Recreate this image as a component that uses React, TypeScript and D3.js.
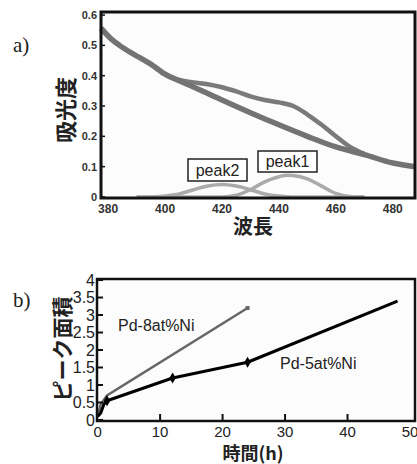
import React from 'react';
import * as d3 from 'd3';

// (a) absorption spectrum
const baseWl = [377.5, 381, 384, 388, 391, 395, 400, 405, 410, 420, 430, 440, 450, 460, 470, 480, 488];
const baseAbs = [0.557, 0.522, 0.5, 0.476, 0.46, 0.438, 0.405, 0.383, 0.363, 0.32, 0.278, 0.238, 0.2, 0.165, 0.14, 0.112, 0.1];
const totalWl = [402, 405, 410, 415, 420, 425, 430, 435, 440, 445, 450, 455, 460, 465, 470];
const totalAbs = [0.395, 0.386, 0.378, 0.372, 0.362, 0.348, 0.332, 0.32, 0.312, 0.3, 0.272, 0.238, 0.2, 0.165, 0.142];
const peakWl = [390, 395, 400, 405, 410, 415, 420, 425, 430, 435, 440, 443, 445, 450, 455, 460, 465, 470];
const peak2Abs = [0, 0, 0.003, 0.01, 0.024, 0.036, 0.041, 0.036, 0.024, 0.01, 0.003, 0.001, 0, 0, 0, 0, 0, 0];
const peak1Abs = [0, 0, 0, 0, 0, 0, 0, 0.006, 0.024, 0.05, 0.067, 0.072, 0.071, 0.06, 0.036, 0.012, 0.002, 0];
const wlTicks = [380, 400, 420, 440, 460, 480];
const absTicks = [0, 0.1, 0.2, 0.3, 0.4, 0.5, 0.6];

// (b) peak area vs time
const t8 = [0, 0.5, 1.5, 24];
const area8 = [0.1, 0.45, 0.7, 3.2];
const t5 = [0, 0.5, 1, 1.5, 12, 24, 48];
const area5 = [0.1, 0.2, 0.45, 0.55, 1.2, 1.65, 3.4];
const markT5 = [1.5, 12, 24];
const timeTicks = [0, 10, 20, 30, 40, 50];
const areaTicks = [0, 0.5, 1, 1.5, 2, 2.5, 3, 3.5, 4];

const JP = '"Noto Sans CJK JP", sans-serif';
const NUM = '"Liberation Sans", Arial, sans-serif';

const App = () => {
  const zip = (xs: number[], ys: number[]) => xs.map((x, i) => [x, ys[i]] as [number, number]);

  // top chart
  const ax = d3.scaleLinear().domain([377.5, 487.8]).range([101, 415]);
  const ay = d3.scaleLinear().domain([-0.0033, 0.61]).range([198, 12]);
  const aLine = d3.line<[number, number]>()
    .x(d => ax(d[0]))
    .y(d => ay(d[1]))
    .curve(d3.curveMonotoneX);

  // bottom chart
  const bx = d3.scaleLinear().domain([-0.1, 50.8]).range([97, 415]);
  const by = d3.scaleLinear().domain([-0.03, 4.03]).range([421, 279]);
  const bLine = d3.line<[number, number]>()
    .x(d => bx(d[0]))
    .y(d => by(d[1]));

  const diamond = d3.symbol().type(d3.symbolDiamond).size(36)();
  const pts5 = zip(t5, area5);

  return (
    <svg width={417} height={464} style={{position: 'absolute', left: 0, top: 0, background: '#fff'}}>
      {/* ---------- a) ---------- */}
      <text x={13} y={52} fontFamily='"Liberation Serif", serif' fontSize={21} fill='#222'>a)</text>
      <rect x={101} y={12} width={314} height={186} fill='#fcfcfc' stroke='none' />
      <path d={aLine(zip(peakWl, peak2Abs)) || ''} fill='none' stroke='#aaa' strokeWidth={3.5} />
      <path d={aLine(zip(peakWl, peak1Abs)) || ''} fill='none' stroke='#aaa' strokeWidth={3.5} />
      <path d={aLine(zip(totalWl, totalAbs)) || ''} fill='none' stroke='#7a7a7a' strokeWidth={4.5} />
      <path d={aLine(zip(baseWl, baseAbs)) || ''} fill='none' stroke='#737373' strokeWidth={5.5} />
      <rect x={101} y={12} width={314} height={186} fill='none' stroke='#111' strokeWidth={3} />
      {absTicks.map(v => (
        <g key={v}>
          <line x1={101} x2={105} y1={ay(v)} y2={ay(v)} stroke='#111' strokeWidth={1.5} />
          <text x={97} y={ay(v)} dy='0.35em' textAnchor='end' fontFamily={NUM} fontWeight='bold' fontSize={11} fill='#333'>{v}</text>
        </g>
      ))}
      {wlTicks.map(v => (
        <text key={v} x={ax(v)} y={213} textAnchor='middle' fontFamily={NUM} fontWeight='bold' fontSize={12} fill='#333'>{v}</text>
      ))}
      <rect x={188} y={159} width={59} height={22} fill='#fff' stroke='#222' strokeWidth={1.5} />
      <text x={217.5} y={176} textAnchor='middle' fontFamily={NUM} fontSize={16} fill='#222'>peak2</text>
      <rect x={258} y={151} width={59} height={21} fill='#fff' stroke='#222' strokeWidth={1.5} />
      <text x={287.5} y={167} textAnchor='middle' fontFamily={NUM} fontSize={16} fill='#222'>peak1</text>
      <text transform='translate(74,110) rotate(-90)' textAnchor='middle' fontFamily={JP} fontWeight='bold' fontSize={22} fill='#222'>吸光度</text>
      <text x={253} y={234} textAnchor='middle' fontFamily={JP} fontWeight='bold' fontSize={20} fill='#222'>波長</text>

      {/* ---------- b) ---------- */}
      <text x={13} y={307} fontFamily='"Liberation Serif", serif' fontSize={21} fill='#222'>b)</text>
      <rect x={97} y={279} width={318} height={142} fill='#fcfcfc' stroke='none' />
      <path d={bLine(zip(t8, area8)) || ''} fill='none' stroke='#666' strokeWidth={2.5} />
      <rect x={bx(24) - 2} y={by(3.2) - 2} width={4} height={4} fill='#666' />
      <path d={bLine(pts5) || ''} fill='none' stroke='#000' strokeWidth={3} strokeLinejoin='round' />
      {pts5.filter(d => markT5.includes(d[0])).map(d => (
        <path key={d[0]} d={diamond || ''} transform={`translate(${bx(d[0])},${by(d[1])})`} fill='#000' />
      ))}
      <rect x={97} y={279} width={318} height={142} fill='none' stroke='#111' strokeWidth={2.5} />
      {areaTicks.map(v => (
        <g key={v}>
          <line x1={97} x2={103} y1={by(v)} y2={by(v)} stroke='#111' strokeWidth={2} />
          <text x={95} y={by(v)} dy='0.36em' textAnchor='end' fontFamily={NUM} fontSize={16} fill='#222'>{v}</text>
        </g>
      ))}
      {timeTicks.map(v => (
        <g key={v}>
          {v > 0 && v < 50 && <line x1={bx(v)} x2={bx(v)} y1={421} y2={414} stroke='#111' strokeWidth={2} />}
          <text x={bx(v)} y={437} textAnchor='middle' fontFamily={NUM} fontSize={15} fill='#222'>{v}</text>
        </g>
      ))}
      <text x={118} y={331} fontFamily={NUM} fontSize={16} fill='#222'>Pd-8at%Ni</text>
      <text x={280} y={369} fontFamily={NUM} fontSize={16} fill='#222'>Pd-5at%Ni</text>
      <text transform='translate(70,349) rotate(-90)' textAnchor='middle' fontFamily={JP} fontWeight='bold' fontSize={21} fill='#222'>ピーク面積</text>
      <text x={253} y={460} textAnchor='middle' fontFamily={JP} fontWeight='bold' fontSize={18} fill='#222'>時間(h)</text>
    </svg>
  );
};

export default App;
